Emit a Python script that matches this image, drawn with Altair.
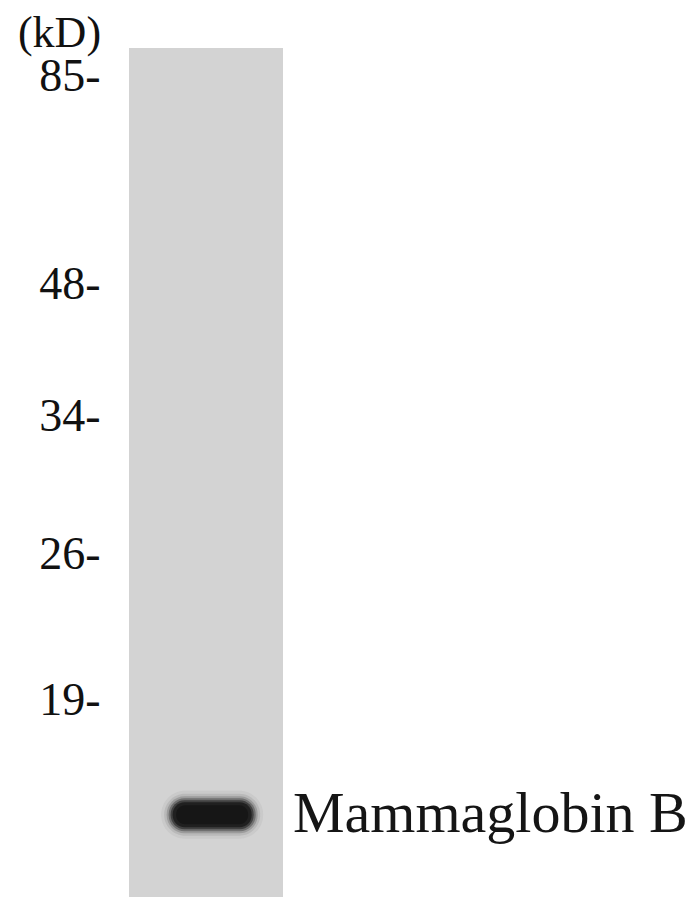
import altair as alt
import pandas as pd

# Molecular-weight markers (kD) and their relative migration along the lane (0 = top of lane)
marker_kd = [85, 48, 34, 26, 19]
marker_pos = [0.033, 0.279, 0.434, 0.597, 0.768]
marker_labels = [f"{k}-" for k in marker_kd]

# Detected band
band_names = ["Mammaglobin B"]
band_pos = [0.903]
band_lane_x = [0.54]

FONT = "Liberation Serif"

bands = pd.DataFrame({"protein": band_names, "pos": band_pos, "lx": band_lane_x})

label_expr = (
    "[" + ",".join(f"'{s}'" for s in marker_labels) + "]"
    "[indexof([" + ",".join(str(v) for v in marker_pos) + "], datum.value)]"
)

y_scale = alt.Scale(domain=[0, 1], reverse=True, nice=False, zero=False)
x_scale = alt.Scale(domain=[0, 1], nice=False, zero=False)

y_axis = alt.Axis(
    values=marker_pos,
    labelExpr=label_expr,
    domain=False,
    ticks=False,
    tickSize=0,
    grid=False,
    labelFont=FONT,
    labelFontSize=46,
    labelColor="#111111",
    labelPadding=29,
    labelAlign="right",
    labelBaseline="middle",
    labelOverlap=False,
    labelBound=False,
    labelFlush=False,
    title="(kD)",
    titleFont=FONT,
    titleFontSize=44,
    titleFontWeight="normal",
    titleColor="#111111",
    titleAngle=0,
    titleAlign="center",
    titleBaseline="alphabetic",
    titleX=-70,
    titleY=-2,
)

base = alt.Chart(bands)

# soft-edged band drawn as nested rounded rectangles (style only)
halo_specs = [
    (102, 48, 24, 0.07, "#555555"),
    (96, 42, 21, 0.12, "#444444"),
    (91, 37, 18, 0.22, "#333333"),
    (87, 33, 16, 0.38, "#2a2a2a"),
    (83, 29, 14, 0.6, "#222222"),
    (79, 25, 12, 0.85, "#1b1b1b"),
    (72, 19, 9, 1.0, "#161616"),
]

layers = []
for w, h, r, op, col in halo_specs:
    layers.append(
        base.mark_rect(width=w, height=h, cornerRadius=r, color=col, opacity=op).encode(
            x=alt.X("lx:Q", scale=x_scale, axis=None),
            y=alt.Y("pos:Q", scale=y_scale, axis=y_axis),
        )
    )

label = base.mark_text(
    align="left",
    baseline="middle",
    font=FONT,
    fontSize=58,
    color="#151515",
    dx=10,
).encode(
    x=alt.value(154),
    y=alt.Y("pos:Q", scale=y_scale, axis=y_axis),
    text="protein:N",
)

chart = alt.layer(*layers, label).properties(
    width=154,
    height=849,
    autosize=alt.AutoSizeParams(type="none"),
    padding={"left": 121, "top": 40, "right": 409, "bottom": 0},
    background="white",
).configure_view(fill="#d3d3d3", stroke=None)

chart.save("out.html", embed_options={"renderer": "svg", "actions": False})
